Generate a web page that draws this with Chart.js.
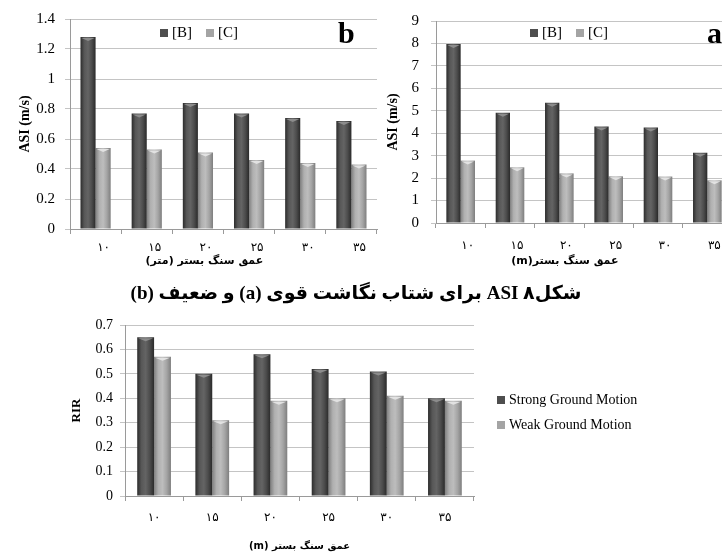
<!DOCTYPE html>
<html>
<head>
<meta charset="utf-8">
<script src="https://cdn.jsdelivr.net/npm/chart.js@4"></script>
<style>
  body { margin: 0; width: 722px; height: 555px; overflow: hidden; background: #fff; position: relative; }
  canvas { position: absolute; }
  .tag { position: absolute; font: bold 30px "Liberation Serif", serif; line-height: 30px; }
  #caption { position: absolute; top: 280px; left: 0; width: 712px; text-align: center; white-space: nowrap; direction: rtl;
             font: bold 19px "Liberation Serif", "DejaVu Sans", serif; line-height: 26px; }
</style>
</head>
<body>
<canvas id="weakChart" width="378" height="272" style="left:0;top:0"></canvas>
<canvas id="strongChart" width="360" height="272" style="left:378px;top:0"></canvas>
<canvas id="rirChart" width="722" height="250" style="left:0;top:305px"></canvas>
<div class="tag" style="left:338px;top:18px">b</div>
<div class="tag" style="left:707px;top:18px">a</div>
<div id="caption">شکل۸ ASI برای شتاب نگاشت قوی (a) و ضعیف (b)</div>
<script>
// bedrock depth categories (persian digits)
const depthLabels = ['۱۰', '۱۵', '۲۰', '۲۵', '۳۰', '۳۵'];
const siteLabels = ['[B]', '[C]'];
const motionLabels = ['Strong Ground Motion', 'Weak Ground Motion'];

// ASI for weak motion (b)
const weakB = [1.28, 0.77, 0.84, 0.77, 0.74, 0.72];
const weakC = [0.54, 0.53, 0.51, 0.46, 0.44, 0.43];
const weakTicks = [0, 0.2, 0.4, 0.6, 0.8, 1, 1.2, 1.4];

// ASI for strong motion (a)
const strongB = [7.98, 4.91, 5.36, 4.30, 4.25, 3.13];
const strongC = [2.78, 2.48, 2.21, 2.08, 2.07, 1.90];
const strongTicks = [0, 1, 2, 3, 4, 5, 6, 7, 8, 9];

// RIR
const rirStrong = [0.65, 0.50, 0.58, 0.52, 0.51, 0.40];
const rirWeak = [0.57, 0.31, 0.39, 0.40, 0.41, 0.39];
const rirTicks = [0, 0.1, 0.2, 0.3, 0.4, 0.5, 0.6, 0.7];

const SERIF = '"Liberation Serif", "Times New Roman", serif';
const FA = '"DejaVu Sans", sans-serif';
const GRID = '#c4c4c4';
const AXIS = '#9a9a9a';
const NBSP = '\u00A0'.repeat(10);
const DARK = { swatch: '#4e4e4e', cap: '#8c8c8c', shade: ['#2c2c2c', '#575757', '#646464', '#4c4c4c', '#2a2a2a'] };
const LIGHT = { swatch: '#a4a4a4', cap: '#e2e2e2', shade: ['#808080', '#b0b0b0', '#bdbdbd', '#a4a4a4', '#7e7e7e'] };

// give every bar a cylinder-like shading across its width
const barShade = {
    id: 'barShade',
    beforeDatasetsDraw(chart) {
        const ctx = chart.ctx;
        chart.data.datasets.forEach((ds, i) => {
            chart.getDatasetMeta(i).data.forEach(bar => {
                const l = bar.x - bar.width / 2;
                const g = ctx.createLinearGradient(l, 0, l + bar.width, 0);
                ds.shade.forEach((c, k) => g.addColorStop(k / (ds.shade.length - 1), c));
                bar.options.backgroundColor = g;
            });
        });
    },
    // light chevron on top of each bar
    afterDatasetsDraw(chart) {
        const ctx = chart.ctx;
        ctx.save();
        chart.data.datasets.forEach((ds, i) => {
            ctx.fillStyle = ds.cap;
            chart.getDatasetMeta(i).data.forEach(bar => {
                const l = bar.x - bar.width / 2 + 1, r = bar.x + bar.width / 2 - 1;
                ctx.beginPath();
                ctx.moveTo(l, bar.y + 1);
                ctx.lineTo(r, bar.y + 1);
                ctx.lineTo(bar.x, bar.y + 4);
                ctx.closePath();
                ctx.fill();
            });
        });
        ctx.restore();
    }
};

// small legend drawn inside / next to the plot
const innerLegend = {
    id: 'innerLegend',
    afterDraw(chart, args, o) {
        const ctx = chart.ctx;
        ctx.save();
        ctx.font = o.font;
        ctx.textBaseline = 'middle';
        let x = o.x, y = o.y;
        chart.data.datasets.forEach(ds => {
            ctx.fillStyle = ds.swatch;
            ctx.fillRect(x, y - o.box / 2, o.box, o.box);
            ctx.fillStyle = '#000';
            ctx.fillText(ds.label, x + o.box + 4, y);
            if (o.row) x += o.box + 4 + ctx.measureText(ds.label).width + o.gap;
            else y += o.gap;
        });
        ctx.restore();
    }
};

function dataset(label, data, look, pct) {
    return {
        label: label,
        data: data,
        swatch: look.swatch,
        shade: look.shade,
        cap: look.cap,
        backgroundColor: () => look.swatch,
        categoryPercentage: pct,
        barPercentage: 1
    };
}

function barOptions(s) {
    return {
        responsive: false,
        animation: false,
        devicePixelRatio: 1,
        layout: { padding: s.padding },
        plugins: {
            legend: { display: false },
            tooltip: { enabled: false },
            innerLegend: s.legend
        },
        scales: {
            x: {
                grid: { drawOnChartArea: false, tickLength: 5, color: AXIS, offset: true },
                border: { color: AXIS },
                ticks: { color: '#000', font: { family: FA, size: s.xFont }, padding: s.xPad, labelOffset: s.xShift },
                title: { display: true, text: s.xTitle, color: '#000',
                         font: { family: FA, size: s.xTitleFont, weight: 'bold' }, padding: { top: 0, bottom: s.xTitlePad } },
                afterFit: sc => { sc.height = s.xHeight; }
            },
            y: {
                min: s.ticks[0],
                max: s.ticks[s.ticks.length - 1],
                afterBuildTicks: sc => { sc.ticks = s.ticks.map(v => ({ value: v })); },
                grid: { color: GRID, tickLength: 5 },
                border: { color: AXIS },
                ticks: { color: '#000', font: { family: SERIF, size: s.yFont }, padding: s.yPad,
                         callback: v => String(v) },
                title: { display: true, text: s.yTitle, color: '#000',
                         font: { family: SERIF, size: s.yTitleFont, weight: 'bold' }, padding: { top: s.yTitlePad, bottom: 0 } },
                afterFit: sc => { sc.width = s.yWidth; }
            }
        }
    };
}

// (b) weak ground motion
new Chart(document.getElementById('weakChart'), {
    type: 'bar',
    data: {
        labels: depthLabels,
        datasets: [dataset(siteLabels[0], weakB, DARK, 0.59), dataset(siteLabels[1], weakC, LIGHT, 0.59)]
    },
    options: barOptions({
        padding: { top: 17, right: 1, left: 0, bottom: 0 },
        ticks: weakTicks, yWidth: 70, yFont: 15, yPad: 10,
        yTitle: 'ASI (m/s)', yTitleFont: 14, yTitlePad: 17,
        xHeight: 43, xFont: 12, xPad: 7, xShift: 8,
        xTitle: '\u202B' + NBSP + 'عمق سنگ بستر (متر)\u202C', xTitleFont: 11, xTitlePad: 4,
        legend: { row: true, x: 160, y: 33, box: 8, gap: 14, font: '15px ' + SERIF }
    }),
    plugins: [barShade, innerLegend]
});

// (a) strong ground motion
new Chart(document.getElementById('strongChart'), {
    type: 'bar',
    data: {
        labels: depthLabels,
        datasets: [dataset(siteLabels[0], strongB, DARK, 0.58), dataset(siteLabels[1], strongC, LIGHT, 0.58)]
    },
    options: barOptions({
        padding: { top: 21, right: 6, left: 0, bottom: 0 },
        ticks: strongTicks, yWidth: 58, yFont: 15, yPad: 12,
        yTitle: 'ASI (m/s)', yTitleFont: 14, yTitlePad: 7,
        xHeight: 49, xFont: 12, xPad: 11, xShift: 7,
        xTitle: '\u202B' + NBSP + 'عمق سنگ بستر(m)\u202C', xTitleFont: 11, xTitlePad: 4,
        legend: { row: true, x: 152, y: 33, box: 8, gap: 14, font: '15px ' + SERIF }
    }),
    plugins: [barShade, innerLegend]
});

// RIR for both motions
new Chart(document.getElementById('rirChart'), {
    type: 'bar',
    data: {
        labels: depthLabels,
        datasets: [dataset(motionLabels[0], rirStrong, DARK, 0.58), dataset(motionLabels[1], rirWeak, LIGHT, 0.58)]
    },
    options: barOptions({
        padding: { top: 20, right: 248, left: 0, bottom: 0 },
        ticks: rirTicks, yWidth: 125, yFont: 14, yPad: 7,
        yTitle: 'RIR', yTitleFont: 13, yTitlePad: 69,
        xHeight: 59, xFont: 12, xPad: 10, xShift: 0,
        xTitle: '\u202Bعمق سنگ بستر (m)\u202C', xTitleFont: 10, xTitlePad: 3,
        legend: { row: false, x: 497, y: 95, box: 8, gap: 25, font: '14px ' + SERIF }
    }),
    plugins: [barShade, innerLegend]
});
</script>
</body>
</html>
